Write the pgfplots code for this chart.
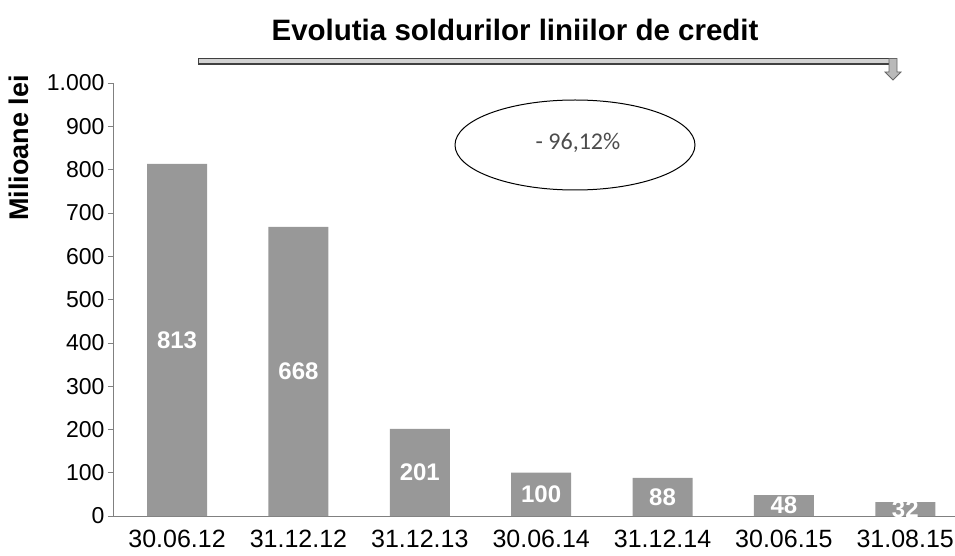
\documentclass[border=0pt]{standalone}
\usepackage{pgfplots}
\pgfplotsset{compat=1.18}
\usepackage{fontspec}
\setmainfont{Liberation Sans}
\newfontfamily\calib{Carlito}
\usetikzlibrary{arrows.meta}
\definecolor{barg}{RGB}{152,152,152}
\begin{document}
\begin{tikzpicture}[x=1pt,y=1pt]
\useasboundingbox (-113,-39) rectangle (842,516);
\begin{axis}[
  at={(0,0)}, anchor=south west,
  scale only axis, width=842pt, height=433pt,
  xmin=-0.528, xmax=6.41, ymin=0, ymax=1000,
  axis lines=left,
  axis line style={gray, line width=0.6pt, -},
  ytick={0,100,...,1000},
  xtick={0,...,6},
  xticklabels={30.06.12,31.12.12,31.12.13,30.06.14,31.12.14,30.06.15,31.08.15},
  x tick label style={font=\fontsize{25}{28}\selectfont, yshift=-6pt},
  y tick label style={font=\fontsize{23}{26}\selectfont},
  /pgf/number format/.cd, 1000 sep={.}, assume math mode=true,
  /pgfplots/.cd,
  major tick length=5pt,
  tick align=outside,
  x tick style={draw=none},
  y tick style={gray, line width=0.6pt},
  clip=false,
]
\addplot[ybar, bar width=60pt, fill=barg, draw=none,
  visualization depends on=rawy \as \rawy,
  nodes near coords,
  nodes near coords style={anchor=center, text=white, font=\bfseries\fontsize{24}{26}\selectfont,
    shift={(axis direction cs:0,-\rawy/2)}},
] coordinates {(0,813) (1,668) (2,201) (3,100) (4,88) (5,48) (6,32)};
\end{axis}
\node[font=\bfseries\fontsize{29.5}{32}\selectfont] at (402,486) {Evolutia soldurilor liniilor de credit};
\draw[black!75, line width=7pt] (85,454) -- (783,454);
\draw[gray!35, line width=4pt] (86,454.5) -- (782,454.5);
\draw[black!60, line width=0.8pt, fill=gray!55] (776,457.5) -- (784,457.5) -- (784,444) -- (788,444) -- (780,436) -- (772,444) -- (776,444) -- cycle;
\draw[black, line width=1pt] (462,371) ellipse [x radius=120, y radius=45];
\node[font=\calib\fontsize{24}{26}\selectfont, text=black!70] at (465,373) {- 96,12\%};
\node[rotate=90, font=\bfseries\fontsize{27}{30}\selectfont] at (-94,368) {Milioane lei};
\end{tikzpicture}
\end{document}
